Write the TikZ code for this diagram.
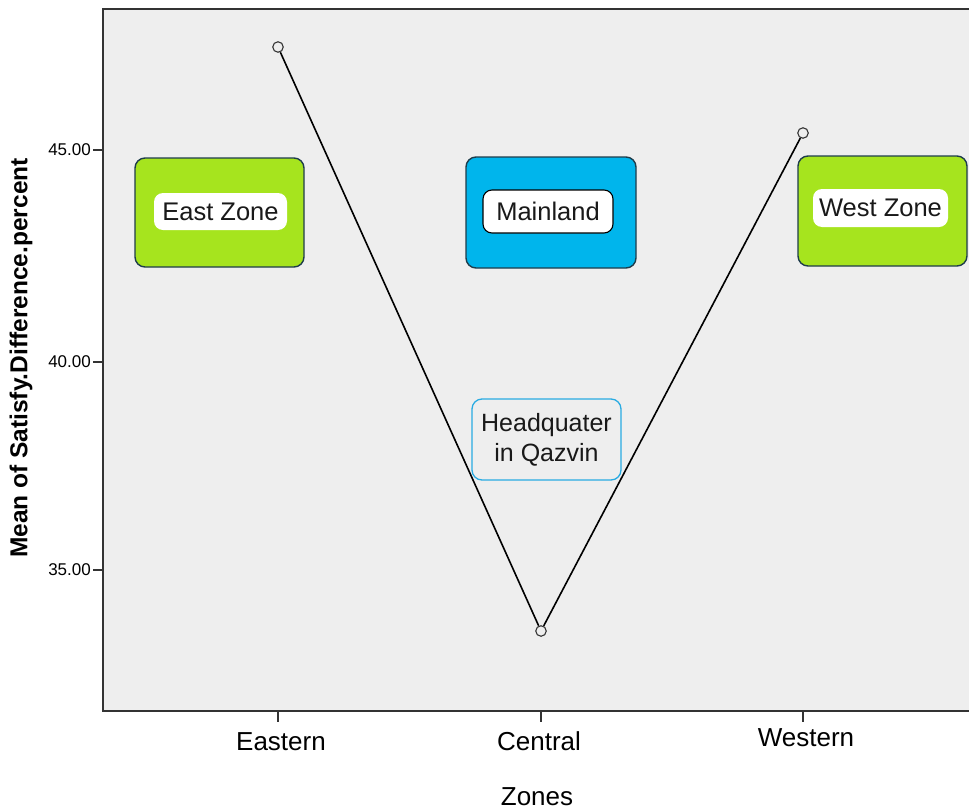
\documentclass[tikz,border=0pt]{standalone}
\usepackage{fontspec}
\setmainfont{Liberation Sans}
\definecolor{plotbg}{RGB}{238,238,238}
\definecolor{zgreen}{RGB}{166,228,30}
\definecolor{zblue}{RGB}{0,181,236}
\definecolor{hqblue}{RGB}{41,171,226}
\definecolor{frame}{RGB}{51,51,51}
\definecolor{boxedge}{RGB}{30,60,75}
\tikzset{
  outerbox/.style={draw=boxedge, line width=1.4pt, rounded corners=10pt, inner sep=0pt},
  innerbox/.style={fill=white, rounded corners=9pt, inner sep=0pt, font=\fontsize{25.5}{29}\selectfont, text=black!90},
  ticklab/.style={font=\fontsize{17}{19}\selectfont, anchor=east, inner sep=0pt},
  xlab/.style={font=\fontsize{26}{30}\selectfont, inner sep=0pt},
  pt/.style={circle, draw=black!80, line width=1.1pt, minimum size=10.5pt, inner sep=0pt},
}
\begin{document}
\begin{tikzpicture}[x=1pt,y=-1pt]
\useasboundingbox (0,0) rectangle (969,811);
\fill[white] (0,0) rectangle (969,811);
\fill[plotbg] (103,9) rectangle (969,711);
\draw[frame, line width=2.2pt] (969,9) -- (103,9) -- (103,711) -- (969,711);
% y ticks
\foreach \y/\l in {150/45.00, 362/40.00, 570/35.00}{
  \draw[frame, line width=1.5pt] (93,\y) -- (103,\y);
  \node[ticklab] at (91,\y) {\l};
}
% x ticks
\foreach \x in {278,541,803}{
  \draw[frame, line width=1.5pt] (\x,711) -- (\x,722);
}
\node[xlab] (le) at (281,742) {Eastern};
\node[xlab] (lc) at (539,741) {Central};
\node[xlab] (lw) at (806,738) {Western};
\node[xlab] (lz) at (537,797) {Zones};
\node[font=\bfseries\fontsize{24.5}{28}\selectfont, rotate=90, inner sep=0pt] (ylab) at (21,358) {Mean of Satisfy.Difference.percent};
% boxes
\node[outerbox, fill=zgreen, minimum width=169pt, minimum height=109pt] (eastbox) at (219.5,212.5) {};
\node[innerbox, minimum width=133pt, minimum height=37pt] (easttxt) at (220.5,211.5) {East Zone};
\node[outerbox, fill=zblue, minimum width=170pt, minimum height=111pt] (mainbox) at (551,212.5) {};
\node[innerbox, draw=black, line width=1.1pt, minimum width=130pt, minimum height=43pt] (maintxt) at (548,211.5) {Mainland};
\node[outerbox, fill=zgreen, minimum width=169pt, minimum height=110pt] (westbox) at (882.5,211) {};
\node[innerbox, minimum width=135pt, minimum height=38pt] (westtxt) at (880.5,208) {West Zone};
\node[draw=hqblue, line width=1.3pt, rounded corners=10pt, minimum width=149pt, minimum height=81pt, inner sep=0pt, align=center, font=\fontsize{25}{30}\selectfont, text=black!90] (hq) at (546.5,439.5) {Headquater\\in Qazvin};
% data
\node[pt] (pe) at (278,47) {};
\node[pt] (pc) at (541,631) {};
\node[pt] (pw) at (803,133) {};
\draw[black, line width=1.6pt] (pe) -- (pc) -- (pw);
\end{tikzpicture}
\end{document}
